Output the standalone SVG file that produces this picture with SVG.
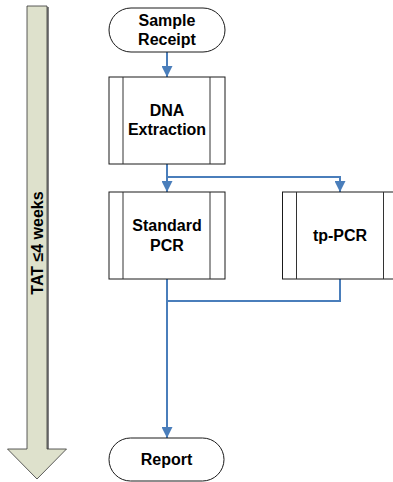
<svg xmlns="http://www.w3.org/2000/svg" width="393" height="482" viewBox="0 0 393 482">
<style>
.box{fill:#fff;stroke:#1a1a1a;stroke-width:1}
.bar{stroke:#333;stroke-width:1}
.lbl{font-family:"Liberation Sans",Arial,sans-serif;font-weight:bold;font-size:16px;fill:#000;text-anchor:middle}
.con{fill:none;stroke:#4a7ebb;stroke-width:2}
</style>
<defs>
<marker id="ah" viewBox="0 0 10 10" refX="10" refY="5" markerWidth="11" markerHeight="11" markerUnits="userSpaceOnUse" orient="auto">
<path d="M0,0 L10,5 L0,10 z" fill="#4a7ebb"/>
</marker>
</defs>
<rect width="393" height="482" fill="#fff"/>
<g id="tat-arrow">
<rect x="47" y="7" width="2" height="442" fill="#808080"/>
<polygon points="27,6 47,6 47,449 66.5,449 37,479 7.5,449 27,449" fill="#dee1cc" stroke="#333" stroke-width="0.8"/>
<text class="lbl" transform="translate(43,243) rotate(-90)" x="0" y="0">TAT ≤4 weeks</text>
</g>
<g id="connectors">
<path class="con" d="M167 52 V77" marker-end="url(#ah)"/>
<path class="con" d="M167 164 V192" marker-end="url(#ah)"/>
<path class="con" d="M167 177 H340 V192" marker-end="url(#ah)"/>
<path class="con" d="M167 279 V438" marker-end="url(#ah)"/>
<path class="con" d="M340 279 V301 H167"/>
</g>
<g id="sample-receipt">
<rect class="box" x="109" y="8" width="116" height="44" rx="22" ry="22"/>
<text class="lbl" x="167" y="26">Sample</text>
<text class="lbl" x="167" y="45">Receipt</text>
</g>
<g id="dna-extraction">
<rect class="box" x="109" y="77" width="116" height="87"/>
<line class="bar" x1="123" y1="77" x2="123" y2="164"/>
<line class="bar" x1="210" y1="77" x2="210" y2="164"/>
<text class="lbl" x="167" y="116">DNA</text>
<text class="lbl" x="167" y="134.5">Extraction</text>
</g>
<g id="standard-pcr">
<rect class="box" x="109" y="192" width="116" height="87"/>
<line class="bar" x1="123" y1="192" x2="123" y2="279"/>
<line class="bar" x1="210" y1="192" x2="210" y2="279"/>
<text class="lbl" x="167" y="231">Standard</text>
<text class="lbl" x="167" y="250.5">PCR</text>
</g>
<g id="tp-pcr">
<rect class="box" x="282.5" y="192" width="116" height="87"/>
<line class="bar" x1="296.5" y1="192" x2="296.5" y2="279"/>
<line class="bar" x1="383.5" y1="192" x2="383.5" y2="279"/>
<text class="lbl" x="340" y="241">tp-PCR</text>
</g>
<g id="report">
<rect class="box" x="109" y="438" width="115" height="43" rx="21.5" ry="21.5"/>
<text class="lbl" x="166.5" y="465">Report</text>
</g>
</svg>
